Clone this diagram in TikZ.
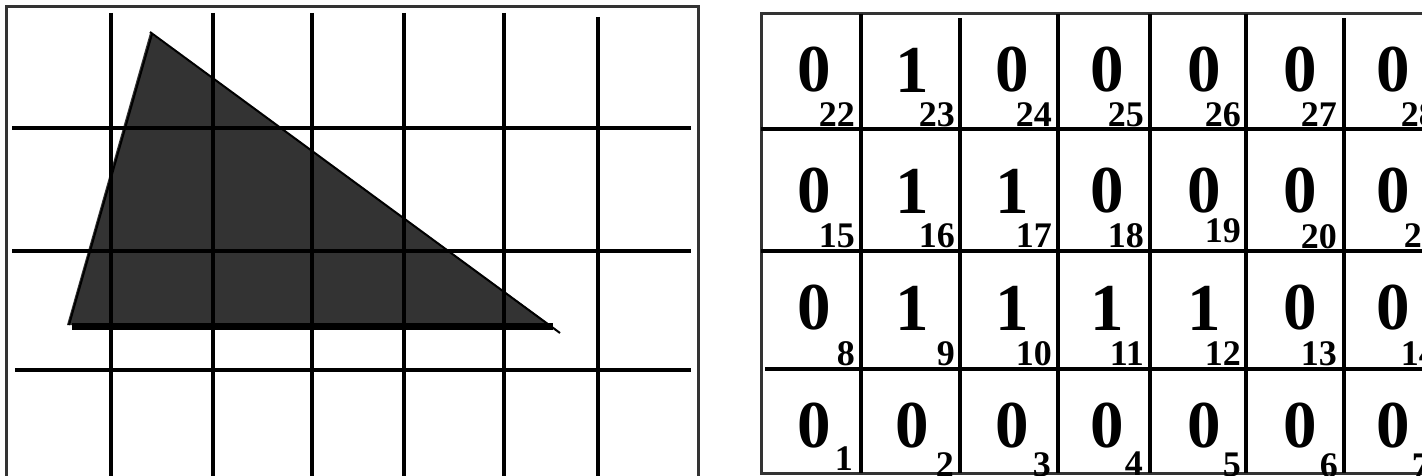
\documentclass[tikz,border=0pt]{standalone}
\usepackage{fontspec}
\setmainfont{Liberation Serif}
\begin{document}
\begin{tikzpicture}[x=1pt,y=-1pt,
  gridline/.style={line width=3.4pt,black},
  frameline/.style={line width=3pt,black!80},
  bigval/.style={font=\bfseries\fontsize{67}{67}\selectfont,inner sep=0pt,anchor=center},
  subnum/.style={font=\bfseries\fontsize{36}{36}\selectfont,inner sep=0pt,anchor=base east}]
\useasboundingbox (0,0) rectangle (1422,476);
\clip (0,0) rectangle (1422,476);
\definecolor{tri}{HTML}{333333}
% ---------- left panel ----------
\draw[frameline] (6.5,6.5) rectangle (698,490);
\fill[tri] (150,33) -- (67,325) -- (556,329) -- cycle;
\foreach \x/\t in {111/13,213/13,312/13,404/13,504/13,598/17}
  \draw[gridline] (\x,\t) -- (\x,480);
\foreach \y/\s in {128/12,251/12,370/15}
  \draw[gridline] (\s,\y) -- (691,\y);
\draw[line width=2pt] (152,34) -- (69,325);
\draw[line width=2pt] (150,32) -- (560,333);
\draw[line width=7pt] (72,326.5) -- (553,326.5);
% ---------- right panel ----------
\draw[frameline] (761,14) rectangle (1450,473);
\foreach \x/\t in {861/14,960/18,1058/14,1150/14,1246/14,1344/18}
  \draw[gridline] (\x,\t) -- (\x,473);
\foreach \y/\s in {129/761,251/761,369/765}
  \draw[gridline] (\s,\y) -- (1450,\y);
% big values
\foreach \r/\y/\vals in {1/70/{0,1,0,0,0,0,0},2/191/{0,1,1,0,0,0,0},3/308/{0,1,1,1,1,0,0},4/426/{0,0,0,0,0,0,0}}{
  \foreach \v [count=\c] in \vals {
    \pgfmathsetmacro{\xx}{{814,912,1012,1107,1204,1300,1393}[\c-1]}
    \node[bigval] (v\r\c) at (\xx,\y) {\v};
  }
}
% cell numbers
\foreach \n/\x/\y in {22/855/127,23/955/127,24/1052/127,25/1144/127,26/1241/127,27/1337/127,28/1437/127,
                      15/855/247,16/955/247,17/1052/247,18/1144/247,19/1241/242,20/1337/248,21/1440/247,
                      8/855/365,9/955/365,10/1052/365,11/1144/365,12/1241/365,13/1337/365,14/1437/365,
                      1/853/470,2/954/476,3/1051/476,4/1143/475,5/1241/476,6/1338/477,7/1430/477}
  \node[subnum] (s\n) at (\x,\y) {\n};
\end{tikzpicture}
\end{document}
